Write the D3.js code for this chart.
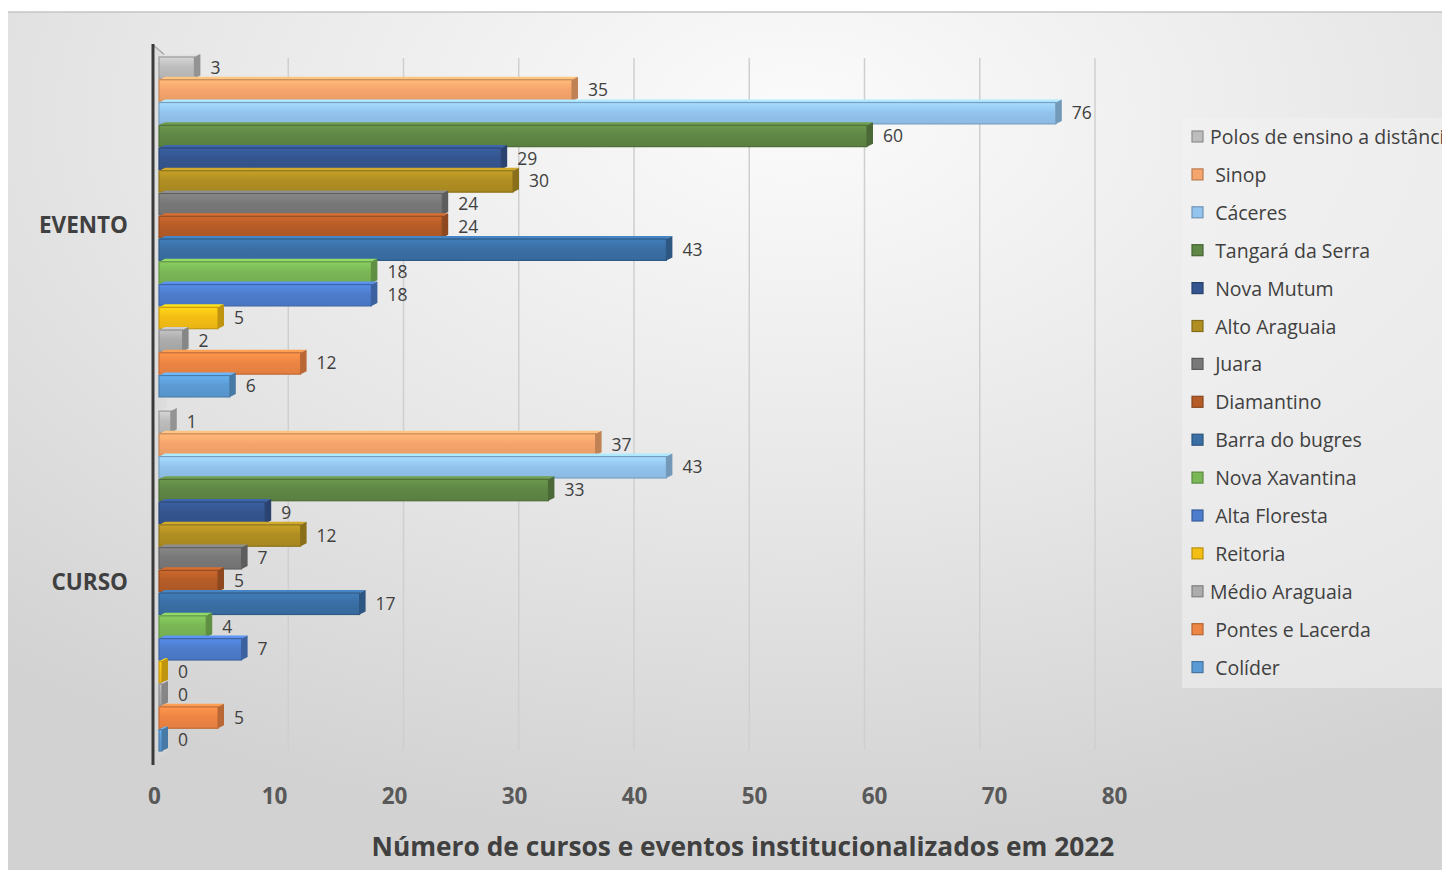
<!DOCTYPE html>
<html><head><meta charset="utf-8">
<script src="https://cdn.jsdelivr.net/npm/d3@7"></script>
<style>
html,body{margin:0;padding:0;background:#fff;}
svg{display:block;}
text{font-family:"Open Sans",sans-serif;}
</style></head>
<body>
<svg id="chart" width="1442" height="870"></svg>
<script>
const categories = ["EVENTO", "CURSO"];
const seriesNames = [" Polos de ensino a distância", "  Sinop", "  Cáceres", "  Tangará da Serra", "  Nova Mutum", "  Alto Araguaia", "  Juara", "  Diamantino", "  Barra do bugres", "  Nova Xavantina", "  Alta Floresta", "  Reitoria", " Médio Araguaia", "  Pontes e Lacerda", "  Colíder"];
const seriesColors = ["#bdbdbd", "#f6a56c", "#93c4ee", "#5f8745", "#34558f", "#b08e22", "#787878", "#b55c28", "#3a6fa5", "#7ab756", "#4d7ccc", "#f5be14", "#acacac", "#ee8544", "#5b9bd5"];
const eventoValues = [3, 35, 76, 60, 29, 30, 24, 24, 43, 18, 18, 5, 2, 12, 6];
const cursoValues = [1, 37, 43, 33, 9, 12, 7, 5, 17, 4, 7, 0, 0, 5, 0];
const tickValues = [0, 10, 20, 30, 40, 50, 60, 70, 80];
const axisTitle = "Número de cursos e eventos institucionalizados em 2022";

const valuesByCategory = {EVENTO: eventoValues, CURSO: cursoValues};
const svg = d3.select("#chart");
const defs = svg.append("defs");

// background
const bg = defs.append("radialGradient").attr("id","bg").attr("cx","0.55").attr("cy","0.12").attr("r","0.85");
bg.append("stop").attr("offset","0%").attr("stop-color","#fbfbfb");
bg.append("stop").attr("offset","55%").attr("stop-color","#e6e6e6");
bg.append("stop").attr("offset","100%").attr("stop-color","#d2d2d2");
svg.append("rect").attr("x",8).attr("y",12).attr("width",1434).attr("height",858).attr("fill","url(#bg)");
svg.append("line").attr("x1",8).attr("x2",1442).attr("y1",12).attr("y2",12).attr("stroke","#c4c4c4").attr("stroke-width",1.5);

// scales (3D perspective: bar plane, back wall plane, axis label plane)
const x = d3.scaleLinear().domain([0, 80]).range([165, 1109]);
const xBack = d3.scaleLinear().domain([0, 80]).range([173, 1095]);
const xAxisScale = d3.scaleLinear().domain([0, 80]).range([154, 1114]);
const y0 = d3.scaleBand().domain(categories).range([57, 751]).paddingInner(0.04);
const y1 = d3.scaleBand().domain(d3.range(seriesNames.length)).range([0, y0.bandwidth()]).paddingInner(0.06);

// gridlines (back wall)
svg.append("g").selectAll("line").data(tickValues.filter(d => d > 0)).join("line")
  .attr("x1", d => xBack(d)).attr("x2", d => xBack(d))
  .attr("y1", 58).attr("y2", 750)
  .attr("stroke", "#cfcfcf").attr("stroke-width", 1.5);

// left wall
svg.append("polygon").attr("points","153,45 167,56 167,752 153,764").attr("fill","#d8d8d8").attr("opacity",0.6);
svg.append("line").attr("x1",153).attr("x2",166).attr("y1",45).attr("y2",56).attr("stroke","#a8a8a8").attr("stroke-width",1.5);
svg.append("line").attr("x1",153).attr("x2",153).attr("y1",44).attr("y2",765).attr("stroke","#3a3a3a").attr("stroke-width",3);

// bar gradients
seriesColors.forEach((c, i) => {
  const g = defs.append("linearGradient").attr("id","g"+i).attr("x1",0).attr("x2",0).attr("y1",0).attr("y2",1);
  g.append("stop").attr("offset","0%").attr("stop-color", d3.color(c).brighter(0.35));
  g.append("stop").attr("offset","45%").attr("stop-color", c);
  g.append("stop").attr("offset","100%").attr("stop-color", d3.color(c).darker(0.15));
});

const depthX = 6, depthY = 3;
const bars = svg.append("g");
categories.forEach(cat => {
  const vals = valuesByCategory[cat];
  vals.forEach((v, i) => {
    const c = seriesColors[i];
    const top = y0(cat) + y1(i);
    const h = y1.bandwidth();
    const x0 = x(0) - depthX;
    const xe = Math.max(x(v), x(0) + 3);
    const g = bars.append("g");
    // top face
    g.append("polygon")
      .attr("points", [[x0, top], [x0 + depthX, top - depthY], [xe, top - depthY], [xe - depthX, top]].join(" "))
      .attr("fill", d3.color(c).brighter(0.5));
    // front face
    g.append("rect").attr("x", x0).attr("y", top).attr("width", Math.max(0, xe - depthX - x0)).attr("height", h)
      .attr("fill", "url(#g" + i + ")")
      .attr("stroke", d3.color(c).darker(0.6)).attr("stroke-width", 1.2);
    // side face
    g.append("polygon")
      .attr("points", [[xe - depthX, top], [xe, top - depthY], [xe, top + h - depthY], [xe - depthX, top + h]].join(" "))
      .attr("fill", d3.color(c).darker(0.7));
    // value label
    svg.append("text").attr("x", xe + 10).attr("y", top + h / 2 + 6)
      .attr("font-size", 17.5).attr("fill", "#404040").text(v);
  });
});

// category labels
svg.append("g").selectAll("text").data(categories).join("text")
  .attr("x", 128).attr("y", (d, i) => y0(d) + y0.bandwidth() / 2 + 6 + i * 3)
  .attr("text-anchor", "end").attr("font-size", 22.5).attr("font-weight", "bold").attr("fill", "#404040")
  .text(d => d);

// x axis tick labels
const axis = d3.axisBottom(xAxisScale).tickValues(tickValues).tickSize(0).tickPadding(0);
const ax = svg.append("g").attr("transform", "translate(0,804)").call(axis);
ax.select(".domain").remove();
ax.selectAll("text").attr("font-size", 22.5).attr("font-weight", "bold").attr("fill", "#595959")
  .attr("font-family", "'Open Sans',sans-serif").attr("dy", 0);

// axis title
svg.append("text").attr("x", 743).attr("y", 856).attr("text-anchor", "middle")
  .attr("font-size", 26.3).attr("font-weight", "bold").attr("fill", "#404040").text(axisTitle);

// legend
svg.append("rect").attr("x", 1182).attr("y", 118).attr("width", 262).attr("height", 570)
  .attr("fill", "#f3f3f3").attr("opacity", 0.55);
const leg = svg.append("g").selectAll("g").data(seriesNames).join("g")
  .attr("transform", (d, i) => `translate(1192,${137 + i * 37.9})`);
leg.append("rect").attr("x", 0).attr("y", -6).attr("width", 11).attr("height", 11)
  .attr("fill", (d, i) => seriesColors[i]).attr("stroke", (d, i) => d3.color(seriesColors[i]).darker(0.8)).attr("stroke-width", 1.2);
leg.append("text").attr("x", 13).attr("y", 7).attr("font-size", 19.5).attr("fill", "#404040")
  .style("white-space", "pre").text(d => d);
</script>
</body></html>
